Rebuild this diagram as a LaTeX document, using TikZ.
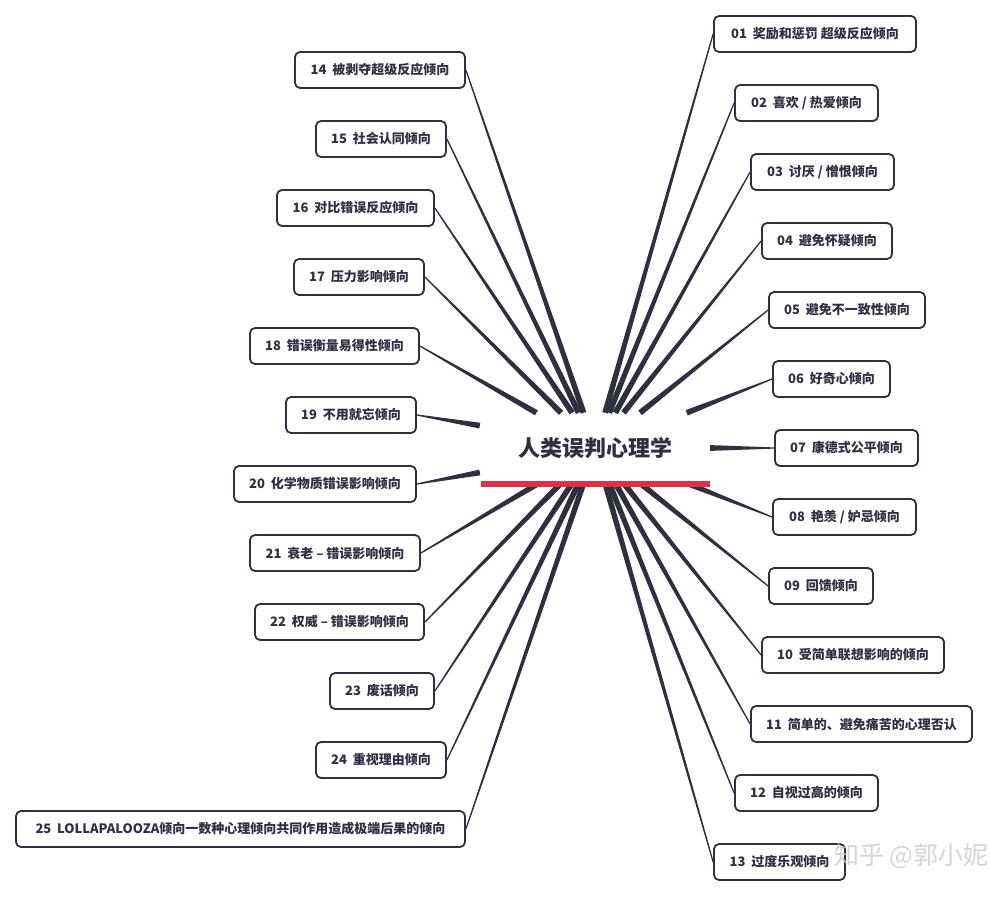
\documentclass[tikz,border=0pt]{standalone}
\usepackage{fontspec}
\setmainfont{Noto Sans CJK SC}
\usetikzlibrary{calc}
\definecolor{ink}{RGB}{46,48,62}
\definecolor{barred}{RGB}{222,48,72}
\tikzset{
  item/.style={draw=ink, line width=1.8pt, rounded corners=5pt, fill=white,
    minimum height=36pt, inner sep=0pt, font=\fontsize{13}{15}\selectfont\bfseries, text=ink},
  hub/.style={fill=white, minimum width=230pt, minimum height=70pt, inner sep=0pt,
    font=\fontsize{22}{25}\selectfont\bfseries, text=ink},
}
\newcommand\mybranch[2]{%
  \fill[ink] let \p1=($(#1.#2)-(C.center)$), \n1={atan2(\y1,\x1)} in
    ($(C.\n1)!2.9pt!90:(#1.#2)$) -- ($(C.\n1)!2.9pt!-90:(#1.#2)$) --
    ($(#1.#2)!0.6pt!90:(C.center)$) -- ($(#1.#2)!0.6pt!-90:(C.center)$) -- cycle;}
\begin{document}
\begin{tikzpicture}[x=1pt,y=-1pt]
\useasboundingbox (0,0) rectangle (990,897);
\node[hub] (C) at (595,448) {人类误判心理学};
% right
\node[item, minimum width=202pt] (n01) at (815,34) {01\hspace{0.45em}奖励和惩罚 超级反应倾向};
\node[item, minimum width=143pt] (n02) at (806.5,103) {02\hspace{0.45em}喜欢 / 热爱倾向};
\node[item, minimum width=143pt] (n03) at (822.5,172) {03\hspace{0.45em}讨厌 / 憎恨倾向};
\node[item, minimum width=130pt] (n04) at (827,241) {04\hspace{0.45em}避免怀疑倾向};
\node[item, minimum width=156pt] (n05) at (847,310) {05\hspace{0.45em}避免不一致性倾向};
\node[item, minimum width=117pt] (n06) at (831.5,379) {06\hspace{0.45em}好奇心倾向};
\node[item, minimum width=143pt] (n07) at (846.5,448) {07\hspace{0.45em}康德式公平倾向};
\node[item, minimum width=143pt] (n08) at (844.5,517) {08\hspace{0.45em}艳羡 / 妒忌倾向};
\node[item, minimum width=104pt] (n09) at (821,586) {09\hspace{0.45em}回馈倾向};
\node[item, minimum width=182pt] (n10) at (853,655) {10\hspace{0.45em}受简单联想影响的倾向};
\node[item, minimum width=221pt] (n11) at (861.5,724) {11\hspace{0.45em}简单的、避免痛苦的心理否认};
\node[item, minimum width=143pt] (n12) at (806.5,793) {12\hspace{0.45em}自视过高的倾向};
\node[item, minimum width=131pt] (n13) at (779.5,862) {13\hspace{0.45em}过度乐观倾向};
% left
\node[item, minimum width=170pt] (n14) at (380,70) {14\hspace{0.45em}被剥夺超级反应倾向};
\node[item, minimum width=130pt] (n15) at (381,139) {15\hspace{0.45em}社会认同倾向};
\node[item, minimum width=157pt] (n16) at (355.5,208) {16\hspace{0.45em}对比错误反应倾向};
\node[item, minimum width=130pt] (n17) at (359,277) {17\hspace{0.45em}压力影响倾向};
\node[item, minimum width=169pt] (n18) at (334.5,346) {18\hspace{0.45em}错误衡量易得性倾向};
\node[item, minimum width=130pt] (n19) at (351,415) {19\hspace{0.45em}不用就忘倾向};
\node[item, minimum width=182pt] (n20) at (325,484) {20\hspace{0.45em}化学物质错误影响倾向};
\node[item, minimum width=170pt] (n21) at (335,553) {21\hspace{0.45em}衰老 – 错误影响倾向};
\node[item, minimum width=169pt] (n22) at (339.5,622) {22\hspace{0.45em}权威 – 错误影响倾向};
\node[item, minimum width=104pt] (n23) at (382,691) {23\hspace{0.45em}废话倾向};
\node[item, minimum width=130pt] (n24) at (381,760) {24\hspace{0.45em}重视理由倾向};
\node[item, minimum width=449pt] (n25) at (240.5,829) {25\hspace{0.45em}LOLLAPALOOZA倾向一数种心理倾向共同作用造成极端后果的倾向};
% branches
\foreach \k in {01,02,03,04,05,06,07,08,09,10,11,12,13}{\mybranch{n\k}{west}}
\foreach \k in {14,15,16,17,18,19,20,21,22,23,24,25}{\mybranch{n\k}{east}}
% red bar
\fill[barred] ([yshift=2pt,xshift=1pt]C.south west) rectangle ([yshift=-4pt]C.south east);
% watermark
\node[text=gray!45, opacity=0.75, font=\fontsize{25}{28}\selectfont, anchor=west, inner sep=0pt] (wm) at (834,856) {知乎 @郭小妮};
\end{tikzpicture}
\end{document}
